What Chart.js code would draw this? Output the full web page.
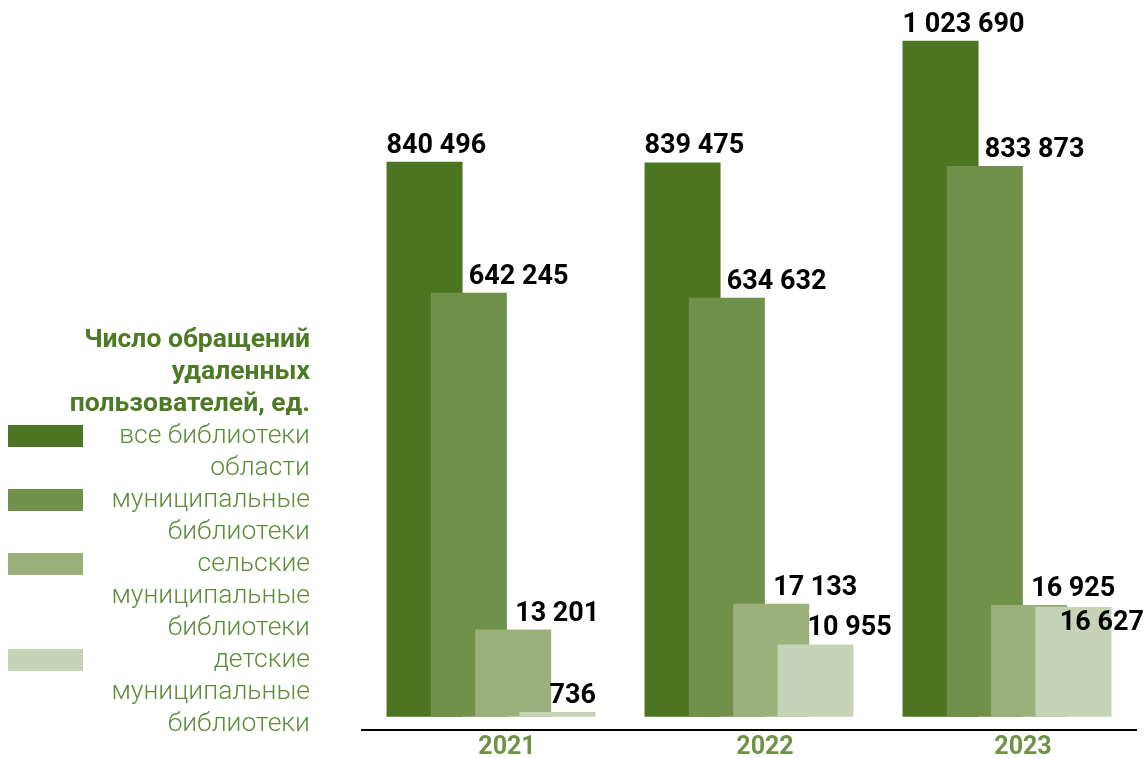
<!DOCTYPE html>
<html>
<head>
<meta charset="utf-8">
<script src="https://cdn.jsdelivr.net/npm/chart.js@4.4.1/dist/chart.umd.min.js"></script>
<style>
  html, body { margin: 0; padding: 0; background: #fff; }
  #wrap { position: relative; width: 1145px; height: 758px; }
  #legend { position: absolute; left: 0; top: 322px; width: 310px; font-family: Roboto, sans-serif; }
  .lt { font-weight: 700; font-size: 26.5px; line-height: 32px; color: #4e7a26; text-align: right; }
  .item { position: relative; }
  .sw { position: absolute; left: 8px; top: 7px; width: 75px; height: 22px; }
  .li { font-weight: 300; font-size: 26.5px; line-height: 32px; color: #5e8c3a; text-align: right; }
</style>
</head>
<body>
<div id="wrap">
  <canvas id="myChart" width="1145" height="758"></canvas>
  <div id="legend"></div>
</div>
<script>
// число обращений удаленных пользователей

var years = ['2021', '2022', '2023'];

var allLibs = [840496, 839475, 1023690];
var munLibs = [642245, 634632, 833873];
var ruralLibs = [13201, 17133, 16925];
var childLibs = [736, 10955, 16627];

var titleLines = ['Число обращений', 'удаленных', 'пользователей, ед.'];
var seriesNames = [
    ['все библиотеки', 'области'],
    ['муниципальные', 'библиотеки'],
    ['сельские', 'муниципальные', 'библиотеки'],
    ['детские', 'муниципальные', 'библиотеки']
];

var colors = ['#4b7520', '#6f9149', '#9bb07b', '#c6d3b6'];
// where the value label sits: at the bar's left edge or near its middle
var labelAnchor = ['left', 'center', 'center', 'center'];
var labelShift = [0, 0, 2, -8];

function fmt(v) {
    return String(v).replace(/\B(?=(\d{3})+(?!\d))/g, ' ');
}

// draw datasets first-to-last so the right bar of a group lies on top
var drawOrder = {
    id: 'drawOrder',
    beforeDatasetsDraw: function (chart) {
        chart.getSortedVisibleDatasetMetas().forEach(function (meta) {
            meta.controller.draw();
        });
        return false;
    }
};

var valueLabels = {
    id: 'valueLabels',
    afterDraw: function (chart) {
        var ctx = chart.ctx;
        ctx.save();
        ctx.font = 'bold 27px Roboto';
        ctx.fillStyle = '#000';
        ctx.textAlign = 'left';
        ctx.textBaseline = 'alphabetic';
        years.forEach(function (y, i) {
            var boxes = [];
            chart.data.datasets.forEach(function (ds, d) {
                var bar = chart.getDatasetMeta(d).data[i];
                var text = fmt(ds.data[i]);
                var w = ctx.measureText(text).width;
                var x = labelAnchor[d] === 'left' ? bar.x - bar.width / 2 : bar.x + labelShift[d];
                x = Math.min(x, chart.width - w - 1);
                var base = bar.y - 9;
                boxes.forEach(function (b) {
                    if (x < b.x2 && x + w > b.x1 && base > b.base - 20 && base - 20 < b.base) {
                        base = b.base + 34;
                    }
                });
                ctx.fillText(text, x, base);
                boxes.push({ x1: x, x2: x + w, base: base });
            });
        });
        ctx.restore();
    }
};

var chart = new Chart('myChart', {
    type: 'bar',
    data: {
        labels: years,
        datasets: [{
            label: seriesNames[0].join(' '),
            data: allLibs,
            backgroundColor: colors[0],
            yAxisID: 'y'
        }, {
            label: seriesNames[1].join(' '),
            data: munLibs,
            backgroundColor: colors[1],
            yAxisID: 'y'
        }, {
            label: seriesNames[2].join(' '),
            data: ruralLibs,
            backgroundColor: colors[2],
            yAxisID: 'y2'
        }, {
            label: seriesNames[3].join(' '),
            data: childLibs,
            backgroundColor: colors[3],
            yAxisID: 'y2'
        }]
    },
    options: {
        responsive: false,
        animation: false,
        categoryPercentage: 0.687,
        barPercentage: 1.716,
        layout: {
            padding: { left: 362, right: 9, top: 30, bottom: -8 }
        },
        plugins: {
            legend: { display: false },
            tooltip: { enabled: false }
        },
        scales: {
            x: {
                grid: { display: false, drawTicks: false },
                border: { display: true, color: '#000', width: 2 },
                ticks: {
                    color: '#6f9148',
                    padding: 8,
                    labelOffset: 16,
                    font: { family: 'Roboto', size: 25, weight: 'bold', lineHeight: 0.8 }
                }
            },
            y: {
                display: false,
                min: -20000,
                max: 1040000
            },
            y2: {
                display: false,
                min: -2000,
                max: 104000
            }
        }
    },
    plugins: [drawOrder, valueLabels]
});

// legend on the left, built from the datasets
var html = titleLines.map(function (l) {
    return '<div class="lt">' + l + '</div>';
}).join('');
chart.data.datasets.forEach(function (ds, d) {
    html += '<div class="item"><span class="sw" style="background:' + ds.backgroundColor + '"></span>' +
        seriesNames[d].map(function (l) { return '<div class="li">' + l + '</div>'; }).join('') +
        '</div>';
});
document.getElementById('legend').innerHTML = html;
</script>
</body>
</html>
